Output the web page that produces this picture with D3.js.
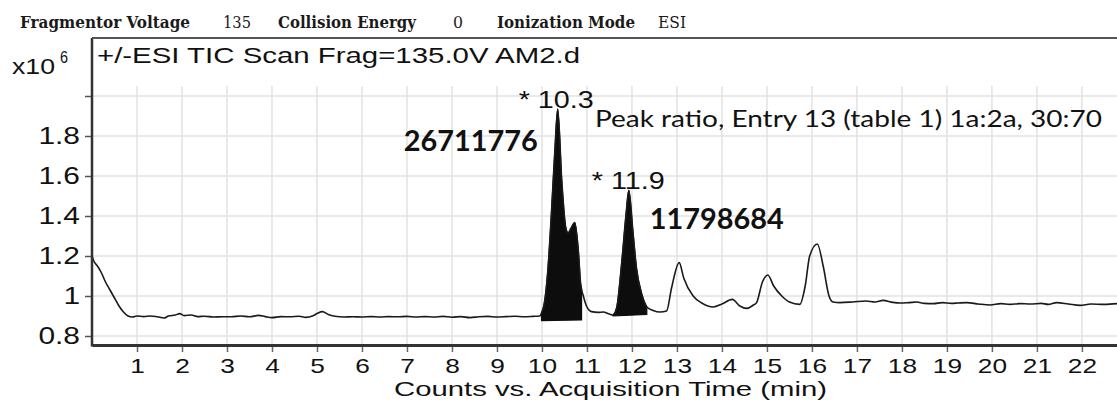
<!DOCTYPE html>
<html>
<head>
<meta charset="utf-8">
<script src="https://cdn.jsdelivr.net/npm/d3@7"></script>
<style>
  html, body { margin: 0; padding: 0; background: #fff; }
  svg { display: block; }
</style>
</head>
<body>
<svg id="chart" width="1117" height="400"></svg>
<script>
// ---------------- data ----------------
// TIC trace: time (min) and counts (x10^6)
const traceTime = [0,0.04,0.12,0.2,0.3,0.4,0.5,0.6,0.7,0.8,0.9,1.0,1.15,1.3,1.45,1.6,1.7,1.85,1.95,2.05,2.2,2.35,2.5,2.7,2.9,3.1,3.3,3.5,3.7,3.85,4.0,4.2,4.4,4.6,4.75,4.9,5.0,5.12,5.25,5.4,5.6,5.8,6.0,6.2,6.4,6.6,6.8,7.0,7.2,7.4,7.6,7.8,8.0,8.2,8.4,8.6,8.8,9.0,9.2,9.4,9.6,9.8,9.95,
  10.0,10.05,10.13,10.21,10.29,10.35,10.44,10.53,10.58,10.65,10.73,10.81,10.86,10.92,10.99,11.1,11.25,11.36,11.5,11.58,
  11.66,11.77,11.87,11.93,12.02,12.1,12.22,12.33,12.47,12.62,12.77,12.88,13.05,13.15,13.36,13.55,13.81,14.0,14.23,14.4,14.55,14.7,14.77,14.9,15.02,15.15,15.33,15.5,15.73,15.85,15.95,16.12,16.25,16.38,16.47,
  16.62,16.9,17.2,17.4,17.58,17.8,17.96,18.15,18.33,18.5,18.7,18.9,19.1,19.25,19.44,19.7,19.96,20.2,20.4,20.62,20.85,21.1,21.25,21.44,21.7,21.96,22.2,22.5,22.78];
const traceCounts = [1.2,1.175,1.15,1.12,1.07,1.03,0.99,0.95,0.92,0.9,0.895,0.9,0.897,0.9,0.896,0.89,0.9,0.905,0.912,0.902,0.905,0.897,0.899,0.895,0.896,0.896,0.9,0.896,0.903,0.897,0.892,0.897,0.896,0.899,0.893,0.9,0.912,0.922,0.908,0.899,0.895,0.896,0.895,0.897,0.895,0.897,0.896,0.898,0.895,0.897,0.895,0.898,0.894,0.897,0.892,0.896,0.898,0.895,0.897,0.899,0.896,0.898,0.9,
  0.92,0.96,1.125,1.41,1.74,1.935,1.575,1.34,1.315,1.34,1.367,1.22,1.06,1.0,0.95,0.922,0.918,0.92,0.91,0.905,
  0.94,1.16,1.41,1.528,1.325,1.14,1.008,0.945,0.928,0.92,0.925,1.04,1.167,1.09,1.0,0.965,0.945,0.96,0.983,0.95,0.938,0.955,0.967,1.07,1.105,1.05,1.0,0.97,0.958,1.05,1.2,1.26,1.15,1.0,0.97,
  0.967,0.97,0.975,0.97,0.978,0.968,0.965,0.967,0.97,0.963,0.962,0.967,0.963,0.965,0.967,0.96,0.955,0.962,0.958,0.962,0.96,0.963,0.958,0.967,0.96,0.953,0.96,0.958,0.962];

// integrated peaks: start/end time and baseline level at start/end
const peakStart = [9.99, 11.58];
const peakEnd = [10.88, 12.33];
const peakBaseStart = [0.877, 0.9];
const peakBaseEnd = [0.88, 0.908];
const peakRT = ["10.3", "11.9"];
const peakApex = [10.35, 11.93];
const peakArea = ["26711776", "11798684"];

const xTicks = d3.range(1, 23);
const yTicks = [0.8, 1.0, 1.2, 1.4, 1.6, 1.8, 2.0];
const yTickLabels = ["0.8", "1", "1.2", "1.4", "1.6", "1.8", ""];

const headerLabels = ["Fragmentor Voltage", "Collision Energy", "Ionization Mode"];
const headerValues = ["135", "0", "ESI"];
const titleText = "+/-ESI TIC Scan Frag=135.0V AM2.d";
const xTitle = "Counts vs. Acquisition Time (min)";
const noteText = "Peak ratio, Entry 13 (table 1) 1a:2a, 30:70";

// ---------------- layout ----------------
const svg = d3.select("#chart");
const pL = 92, pR = 1117, pT = 38, pB = 345;

const x = d3.scaleLinear().domain([0, 22.78]).range([pL, pR]);
const y = d3.scaleLinear().domain([0.75, 2.05]).range([pB + 1, 86]);

const sans = "'Liberation Sans', Arial, sans-serif";
const cal = "Lato, 'Open Sans', sans-serif";
const serif = "'DejaVu Serif Condensed', 'DejaVu Serif', serif";

function fit(sel, w) {
  sel.attr("textLength", w).attr("lengthAdjust", "spacingAndGlyphs");
  return sel;
}
function stretch(node, k) {
  const len = node.getComputedTextLength();
  node.setAttribute("textLength", len * k);
  node.setAttribute("lengthAdjust", "spacingAndGlyphs");
}

// ---------------- grid ----------------
const grid = svg.append("g");
grid.selectAll("line.v").data(xTicks).join("line").attr("class", "v")
  .attr("x1", d => x(d)).attr("x2", d => x(d))
  .attr("y1", y(2.05)).attr("y2", pB)
  .attr("stroke", "#e2e2e2").attr("stroke-width", 1.5);
grid.selectAll("line.h").data(yTicks).join("line").attr("class", "h")
  .attr("x1", pL).attr("x2", pR)
  .attr("y1", d => y(d)).attr("y2", d => y(d))
  .attr("stroke", "#e2e2e2").attr("stroke-width", 1.5);

// ---------------- peaks (filled) ----------------
const pts = traceTime.map((t, i) => [t, traceCounts[i]]);
function interp(t) {
  for (let i = 1; i < pts.length; i++) {
    if (pts[i][0] >= t) {
      const a = pts[i - 1], b = pts[i];
      return a[1] + (b[1] - a[1]) * (t - a[0]) / (b[0] - a[0]);
    }
  }
  return pts[pts.length - 1][1];
}
const smooth = d3.line().x(d => x(d[0])).y(d => y(d[1])).curve(d3.curveMonotoneX);
peakStart.forEach((s, k) => {
  const e = peakEnd[k];
  const curvePts = [[s, interp(s)]]
    .concat(pts.filter(p => p[0] > s && p[0] < e))
    .concat([[e, interp(e)]]);
  const d = smooth(curvePts) + `L${x(e)},${y(peakBaseEnd[k])}L${x(s)},${y(peakBaseStart[k])}Z`;
  svg.append("path")
    .attr("d", d)
    .attr("fill", "#0d0d0d").attr("stroke", "#0d0d0d").attr("stroke-width", 1.2)
    .attr("stroke-linejoin", "round");
});

// ---------------- trace ----------------
svg.append("path")
  .attr("d", smooth(pts))
  .attr("fill", "none").attr("stroke", "#1a1a1a").attr("stroke-width", 1.6)
  .attr("stroke-linejoin", "round");

// ---------------- axes ----------------
const xAxis = svg.append("g").attr("transform", `translate(0,${pB})`)
  .call(d3.axisBottom(x).tickValues(xTicks).tickSize(7).tickSizeOuter(0).tickFormat(d3.format("d")));
xAxis.select(".domain").attr("stroke", "#333").attr("stroke-width", 3);
xAxis.selectAll(".tick line").attr("stroke", "#666").attr("stroke-width", 1.5).attr("y1", 2);
xAxis.selectAll(".tick text")
  .attr("font-family", sans).attr("font-size", 21).attr("fill", "#111")
  .attr("y", 28).attr("dy", 0)
  .each(function () { stretch(this, 1.25); });

const yAxis = svg.append("g").attr("transform", `translate(${pL},0)`)
  .call(d3.axisLeft(y).tickValues(yTicks).tickSize(7).tickSizeOuter(0)
    .tickFormat((d, i) => yTickLabels[i]));
yAxis.select(".domain").remove();
yAxis.selectAll(".tick line").attr("stroke", "#555").attr("stroke-width", 1.5);
yAxis.selectAll(".tick text")
  .attr("font-family", sans).attr("font-size", 23).attr("fill", "#111")
  .attr("x", -12).attr("dy", "0.33em")
  .each(function () { if (this.textContent) stretch(this, 1.3); });

// frame: left axis line and top border of the title box
svg.append("line").attr("x1", pL).attr("x2", pL).attr("y1", pT).attr("y2", pB + 1.5)
  .attr("stroke", "#333").attr("stroke-width", 2.5);
svg.append("line").attr("x1", pL).attr("x2", pR).attr("y1", pT).attr("y2", pT)
  .attr("stroke", "#555").attr("stroke-width", 2);

// ---------------- header ----------------
const headerX = [20, 278, 497];
const headerW = [170, 138, 138];
const valueX = [223, 453, 658];
const valueW = [28, 10, 28];
headerLabels.forEach((s, i) => {
  fit(svg.append("text").attr("x", headerX[i]).attr("y", 28)
    .attr("font-family", serif).attr("font-weight", "bold").attr("font-size", 16)
    .attr("fill", "#1a1a1a").text(s), headerW[i]);
  fit(svg.append("text").attr("x", valueX[i]).attr("y", 28)
    .attr("font-family", serif).attr("font-size", 16)
    .attr("fill", "#1a1a1a").text(headerValues[i]), valueW[i]);
});

// exponent label
fit(svg.append("text").attr("x", 12).attr("y", 74).attr("font-family", sans)
  .attr("font-size", 22).attr("fill", "#111").text("x10"), 43);
fit(svg.append("text").attr("x", 60).attr("y", 63).attr("font-family", sans)
  .attr("font-size", 16).attr("fill", "#111").text("6"), 8);

// title
fit(svg.append("text").attr("x", pL + 5).attr("y", 63).attr("font-family", sans)
  .attr("font-size", 22).attr("fill", "#111").text(titleText), 483);

// x title
fit(svg.append("text").attr("x", 394).attr("y", 396).attr("font-family", sans)
  .attr("font-size", 20).attr("fill", "#111").text(xTitle), 433);

// ---------------- annotations ----------------
const rtOffsetX = [-39, -37];
const areaOffsetX = [-154, 21];
const areaOffsetY = [42, 39];
peakApex.forEach((t, i) => {
  const v = interp(t);
  fit(svg.append("text").attr("x", x(t) + rtOffsetX[i]).attr("y", y(v) - 1)
    .attr("font-family", sans).attr("font-size", 23).attr("fill", "#111")
    .text("* " + peakRT[i]), [75, 73][i]);
  fit(svg.append("text").attr("x", x(t) + areaOffsetX[i]).attr("y", y(v) + areaOffsetY[i])
    .attr("font-family", cal).attr("font-weight", "bold").attr("font-size", 28).attr("fill", "#111")
    .text(peakArea[i]), 134);
});
fit(svg.append("text").attr("x", 595).attr("y", 127).attr("font-family", cal)
  .attr("font-size", 23).attr("fill", "#111").text(noteText), 507);
</script>
</body>
</html>
